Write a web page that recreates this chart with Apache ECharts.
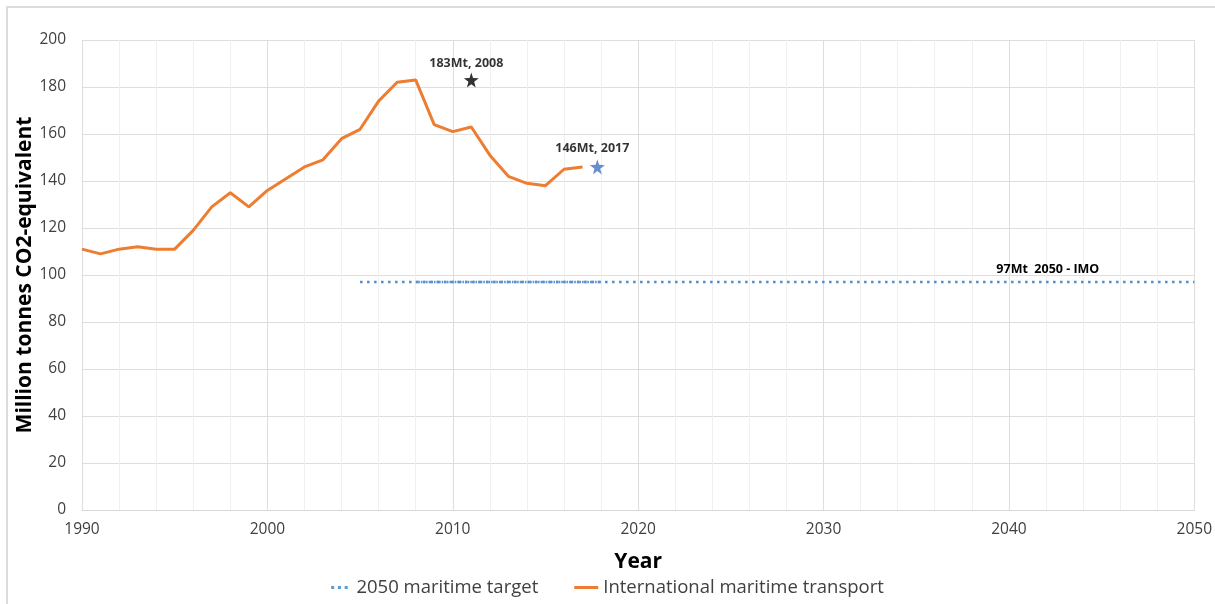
<!DOCTYPE html>
<html><head><meta charset="utf-8">
<script src="https://cdn.jsdelivr.net/npm/echarts@6/dist/echarts.min.js"></script>
<style>
html,body{margin:0;padding:0;background:#fff;}
#frame{position:absolute;left:6px;top:6px;width:1215px;height:604px;border-top:2px solid #dcdcdc;border-left:2px solid #dcdcdc;box-sizing:border-box;}
#c{position:absolute;left:0;top:0;width:1215px;height:604px;}
</style></head><body>
<div id="frame"></div>
<div id="c"></div>
<script>
const years = [1990,1991,1992,1993,1994,1995,1996,1997,1998,1999,2000,2001,2002,2003,2004,2005,2006,2007,2008,2009,2010,2011,2012,2013,2014,2015,2016,2017];
const emissions = [111,109,111,112,111,111,119,129,135,129,136,141,146,149,158,162,174,182,183,164,161,163,151,142,139,138,145,146];
const targetYears = [2005,2050];
const targetValues = [97,97];
const denseYears = [2008,2018];
const denseValues = [97,97];
const peakStar = [2011,183];
const latestStar = [2017.8,146];
const xTicks = [1990,2000,2010,2020,2030,2040,2050];
const yTicks = [0,20,40,60,80,100,120,140,160,180,200];

const FONT = '"Open Sans", "Noto Sans", sans-serif';
const STAR = 'path://M50,0L61.8,36.2L100,38.2L69.1,61.8L79.4,100L50,78L20.6,100L30.9,61.8L0,38.2L38.2,36.2Z';
const chart = echarts.init(document.getElementById('c'), null, {renderer:'canvas'});
chart.setOption({
  animation:false,
  textStyle:{fontFamily:FONT},
  grid:{left:82, top:40, width:1113, height:470, containLabel:false},
  xAxis:{
    type:'value', min:xTicks[0], max:xTicks[xTicks.length-1], interval:10,
    name:'Year', nameLocation:'middle', nameGap:42,
    nameTextStyle:{fontFamily:FONT, fontSize:21, fontWeight:'bold', color:'#000'},
    axisLine:{show:true, lineStyle:{color:'#d9d9d9', width:1}},
    axisTick:{show:false},
    axisLabel:{fontFamily:FONT, fontSize:15.5, color:'#404040', margin:12, formatter:v=>String(v)},
    splitLine:{show:true, lineStyle:{color:'#dedede', width:1}},
    minorTick:{show:false, splitNumber:5},
    minorSplitLine:{show:true, lineStyle:{color:'#efefef', width:1}}
  },
  yAxis:{
    type:'value', min:yTicks[0], max:yTicks[yTicks.length-1], interval:20,
    name:'Million tonnes CO2-equivalent', nameLocation:'middle', nameGap:46, nameMoveOverlap:false,
    nameTextStyle:{fontFamily:FONT, fontSize:21, fontWeight:'bold', color:'#000'},
    axisLine:{show:false}, axisTick:{show:false},
    axisLabel:{fontFamily:FONT, fontSize:15.5, color:'#404040', margin:16, formatter:v=>String(v)},
    splitLine:{show:true, lineStyle:{color:'#dedede', width:1}}
  },
  legend:{
    bottom:2, left:'center', itemGap:36, itemWidth:24, itemHeight:3,
    textStyle:{fontFamily:FONT, fontSize:18.5, color:'#404040'},
    data:[
      {name:'2050 maritime target', icon:'path://M0,0h4v4h-4zM9,0h4v4h-4zM18,0h4v4h-4z', itemStyle:{color:'#5b9bd5'}},
      {name:'International maritime transport', icon:'rect', itemStyle:{color:'#ed7d31'}}
    ]
  },
  series:[
    {
      name:'2050 maritime target', type:'line', symbol:'none',
      data:targetYears.map((y,i)=>[y,targetValues[i]]),
      lineStyle:{color:'#4f8ccc', width:2.5, type:[2.5,4.5], cap:'butt'},
      itemStyle:{color:'#5b9bd5'},
      markPoint:{
        symbol:'circle', symbolSize:1, itemStyle:{color:'transparent'},
        label:{show:true, position:'top', distance:6, formatter:'97Mt  2050 - IMO', fontFamily:FONT, fontSize:12.5, fontWeight:'bold', color:'#000'},
        data:[{coord:[2042.1,97]}]
      }
    },
    {
      name:'dense', type:'line', symbol:'none', silent:true,
      data:denseYears.map((y,i)=>[y,denseValues[i]]),
      lineStyle:{color:'#5b93d0', width:2.5, type:[1.6,1], cap:'butt'}
    },
    {
      name:'International maritime transport', type:'line', symbol:'none',
      data:years.map((y,i)=>[y,emissions[i]]),
      lineStyle:{color:'#ed7d31', width:3},
      itemStyle:{color:'#ed7d31'}
    },
    {
      name:'peak', type:'scatter', symbol:STAR, symbolSize:15,
      data:[peakStar], itemStyle:{color:'#000'},
      label:{show:true, position:'top', distance:3, offset:[-5,0], formatter:'183Mt, 2008', fontFamily:FONT, fontSize:12.5, fontWeight:'bold', color:'#000'}
    },
    {
      name:'latest', type:'scatter', symbol:STAR, symbolSize:15,
      data:[latestStar], itemStyle:{color:'#4472c4'},
      label:{show:true, position:'top', distance:4, offset:[-5,0], formatter:'146Mt, 2017', fontFamily:FONT, fontSize:12.5, fontWeight:'bold', color:'#000'}
    }
  ]
});
</script>
</body></html>
